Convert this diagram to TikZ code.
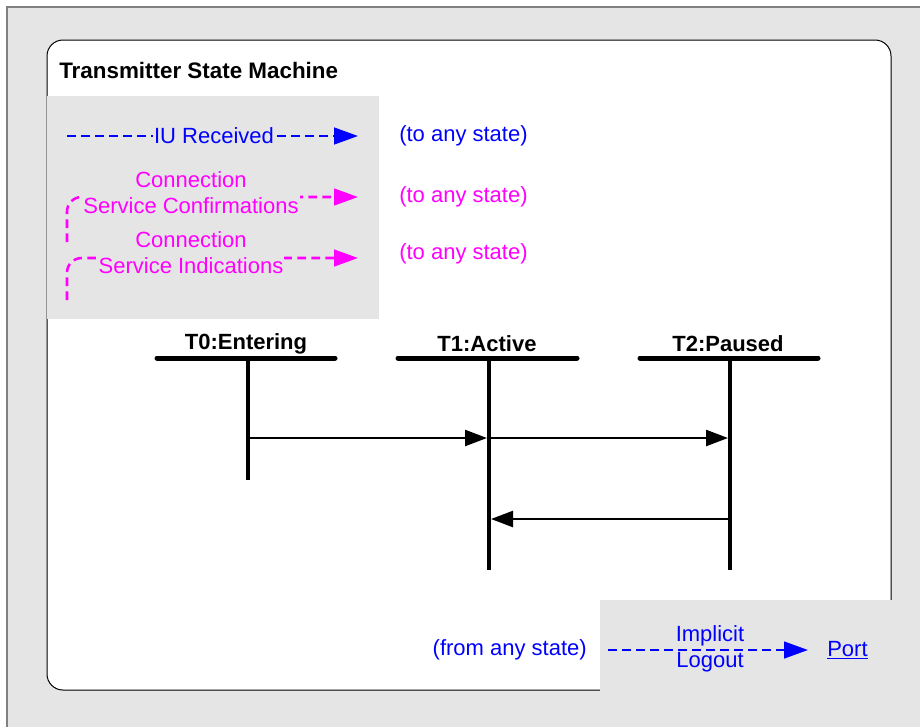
\documentclass[tikz,border=0pt]{standalone}
\usepackage{fontspec}
\setmainfont{Liberation Sans}
\usetikzlibrary{arrows.meta}
\definecolor{panelgray}{RGB}{229,229,229}
\definecolor{framegray}{RGB}{128,128,128}
\definecolor{ublue}{RGB}{0,0,255}
\definecolor{umagenta}{RGB}{255,0,255}
\begin{document}
\begin{tikzpicture}[x=0.75pt,y=0.75pt,yscale=-1,xscale=1,
  txt/.style={inner sep=0.75pt, font=\fontsize{16.5}{19.5}\selectfont},
  legline/.style={line width=1.9pt, dash pattern=on 6.5pt off 4pt, -{Triangle[length=18pt,width=12.5pt]}},
  lifeline/.style={line width=3.2pt},
  statebar/.style={line width=3.75pt, line cap=round},
  msg/.style={line width=1.8pt, -{Triangle[length=16.5pt,width=12pt]}, shorten >=1.5pt}]
\clip (0,0) rectangle (920,726);
%Shape: Rectangle
\draw [color=framegray, fill=panelgray, line width=1.5pt] (7,7) -- (940,7) -- (940,740) -- (7,740) -- cycle ;
%Rounded Rect
\draw [fill=white, line width=0.75pt, rounded corners=12pt] (47,40) -- (891,40) -- (891,690) -- (47,690) -- cycle ;
%Shape: Rectangle
\fill [panelgray] (47,96) -- (379,96) -- (379,319) -- (47,319) -- cycle ;
%Shape: Rectangle
\fill [panelgray] (600,600) -- (940,600) -- (940,740) -- (600,740) -- cycle ;

% Text Node
\draw (58,70) node (title) [anchor=west][txt] {\fontsize{16.8}{19.5}\selectfont\bfseries Transmitter State Machine};

%Legend: IU Received
\coordinate (iu start) at (67,136);
\coordinate (iu tip) at (358,136);
\draw [legline, color=ublue] (iu start) -- (iu tip);
% Text Node
\draw (214,136) node (iu) [txt, fill=panelgray, text=ublue] {IU Received};
% Text Node
\draw (398,136) node (iu any) [anchor=west][txt, text=ublue] {(to any state)};

%Legend: Service Confirmations
\coordinate (conf start) at (67,242);
\coordinate (conf tip) at (358,197);
\draw [legline, color=umagenta, rounded corners=11pt] (conf start) |- (conf tip);
% Text Node
\draw (191,192.5) node (conf) [txt, fill=panelgray, text=umagenta, align=center] {Connection\\Service Confirmations};
% Text Node
\draw (398,197) node (conf any) [anchor=west][txt, text=umagenta] {(to any state)};

%Legend: Service Indications
\coordinate (ind start) at (67,300);
\coordinate (ind tip) at (358,258);
\draw [legline, color=umagenta, rounded corners=11pt] (ind start) |- (ind tip);
% Text Node
\draw (191,253) node (ind) [txt, fill=panelgray, text=umagenta, align=center] {Connection\\Service Indications};
% Text Node
\draw (398,254) node (ind any) [anchor=west][txt, text=umagenta] {(to any state)};

%States
\draw (246,344) node (t0) [txt] {\bfseries T0:Entering};
\draw (487,344) node (t1) [txt] {\bfseries T1:Active};
\draw (728,344) node (t2) [txt] {\bfseries T2:Paused};
\coordinate (t0 top) at (248,358);
\coordinate (t0 end) at (248,480);
\coordinate (t1 top) at (489,358);
\coordinate (t1 end) at (489,570);
\coordinate (t2 top) at (730,358);
\coordinate (t2 end) at (730,570);
%Straight Lines
\draw [statebar] (157,358) -- (335,358) ;
\draw [statebar] (398,358) -- (577,358) ;
\draw [statebar] (640,358) -- (818,358) ;
\draw [lifeline] (t0 top) -- (t0 end) ;
\draw [lifeline] (t1 top) -- (t1 end) ;
\draw [lifeline] (t2 top) -- (t2 end) ;

%Transitions
\coordinate (t0 go) at (248,438);
\coordinate (t1 go) at (489,438);
\coordinate (t2 go) at (730,438);
\coordinate (t2 back) at (730,519);
\coordinate (t1 back) at (489,519);
\draw [msg] (t0 go) -- (t1 go) ;
\draw [msg] (t1 go) -- (t2 go) ;
\draw [msg] (t2 back) -- (t1 back) ;

%Implicit Logout
\draw (588,650) node (from any) [anchor=east][txt, text=ublue] {(from any state)};
\coordinate (lo start) at (608,650);
\coordinate (lo tip) at (808,650);
\draw [legline, color=ublue] (lo start) -- (lo tip);
% Text Node
\draw (710,649) node (logout) [txt, text=ublue, align=center] {Implicit\\Logout};
% Text Node
\draw (826,650) node (port) [anchor=west][txt, text=ublue] {\underline{Port}};
\end{tikzpicture}
\end{document}
